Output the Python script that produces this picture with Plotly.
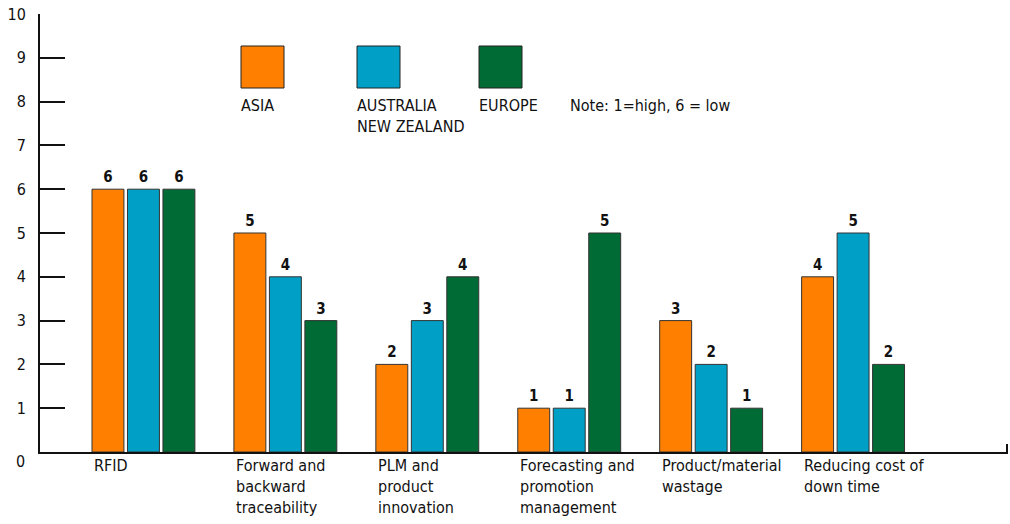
import plotly.graph_objects as go

categories = ["RFID", "Forward and<br>backward<br>traceability", "PLM and<br>product<br>innovation",
              "Forecasting and<br>promotion<br>management", "Product/material<br>wastage",
              "Reducing cost of<br>down time"]
asia = [6, 5, 2, 1, 3, 4]
australia_nz = [6, 4, 3, 1, 2, 5]
europe = [6, 3, 4, 5, 1, 2]
series_names = ["ASIA", "AUSTRALIA<br>NEW ZEALAND", "EUROPE"]
series_colors = ["#FF8000", "#00A0C6", "#006B35"]
y_ticks = [0, 1, 2, 3, 4, 5, 6, 7, 8, 9, 10]

FONT = "Liberation Sans Narrow, Arial Narrow, DejaVu Sans Condensed, sans-serif"
W, H = 1010, 524
ML, MR, MT, MB = 40, 2, 14, 72
PW, PH = W - ML - MR, H - MT - MB


def px(x):
    return (x - ML) / PW


def py(y):
    return (H - MB - y) / PH


bar_w = 0.225
step = 0.25
xs = list(range(len(categories)))

fig = go.Figure()
for k, (name, vals, col) in enumerate(zip(series_names, [asia, australia_nz, europe], series_colors)):
    off = (k - 1) * step - bar_w / 2
    fig.add_trace(go.Bar(
        x=xs, y=vals, width=bar_w, offset=off, name=name,
        marker=dict(color=col, line=dict(color="#333333", width=1)),
        text=[str(v) for v in vals], textposition="outside",
        textfont=dict(family=FONT, size=15, color="#111111", weight="bold"),
        cliponaxis=False, showlegend=False,
    ))

# category labels, left-aligned under each group
for i, c in enumerate(categories):
    fig.add_annotation(x=i - step - bar_w / 2, xref="x", y=py(454), yref="paper",
                       text=c, showarrow=False, xanchor="left", yanchor="top", align="left",
                       font=dict(family=FONT, size=16, color="#111111"))

# custom legend: swatches with labels beneath
legend_x = [241, 357, 479]
for name, col, lx in zip(series_names, series_colors, legend_x):
    fig.add_shape(type="rect", xref="paper", yref="paper",
                  x0=px(lx), x1=px(lx + 43), y0=py(88), y1=py(46),
                  fillcolor=col, line=dict(color="#222222", width=1))
    fig.add_annotation(x=px(lx - 2), y=py(94), xref="paper", yref="paper", text=name,
                       showarrow=False, xanchor="left", yanchor="top", align="left",
                       font=dict(family=FONT, size=16, color="#111111"))
fig.add_annotation(x=px(568), y=py(94), xref="paper", yref="paper", text="Note: 1=high, 6 = low",
                   showarrow=False, xanchor="left", yanchor="top", align="left",
                   font=dict(family=FONT, size=16, color="#111111"))

# zero label sits slightly below the baseline
fig.add_annotation(x=px(20), y=py(461), xref="paper", yref="paper", text="0",
                   showarrow=False, xanchor="center", yanchor="middle",
                   font=dict(family=FONT, size=16, color="#111111"))

# small end tick at the right of the category axis
fig.add_shape(type="line", xref="paper", yref="paper", x0=1 - 1 / PW, x1=1 - 1 / PW,
              y0=0, y1=py(444), line=dict(color="#111111", width=2))

fig.update_layout(
    width=W, height=H, margin=dict(l=ML, r=MR, t=MT, b=MB),
    paper_bgcolor="white", plot_bgcolor="white", barmode="overlay",
    font=dict(family=FONT, size=16, color="#111111"),
    xaxis=dict(range=[-(103.5 / 142), 5 + (1008 - 853) / 142], showticklabels=False,
               showgrid=False, zeroline=False, showline=True, linecolor="#111111",
               linewidth=2, ticks=""),
    yaxis=dict(range=[0, 10], tickvals=y_ticks,
               ticktext=["" if t == 0 else str(t) for t in y_ticks],
               showgrid=False, zeroline=False, showline=True, linecolor="#111111",
               linewidth=2, ticks="inside", ticklen=25, tickwidth=2, tickcolor="#111111",
               ticklabelstandoff=9, tickfont=dict(family=FONT, size=16, color="#111111")),
)

fig.write_html("out.html")
